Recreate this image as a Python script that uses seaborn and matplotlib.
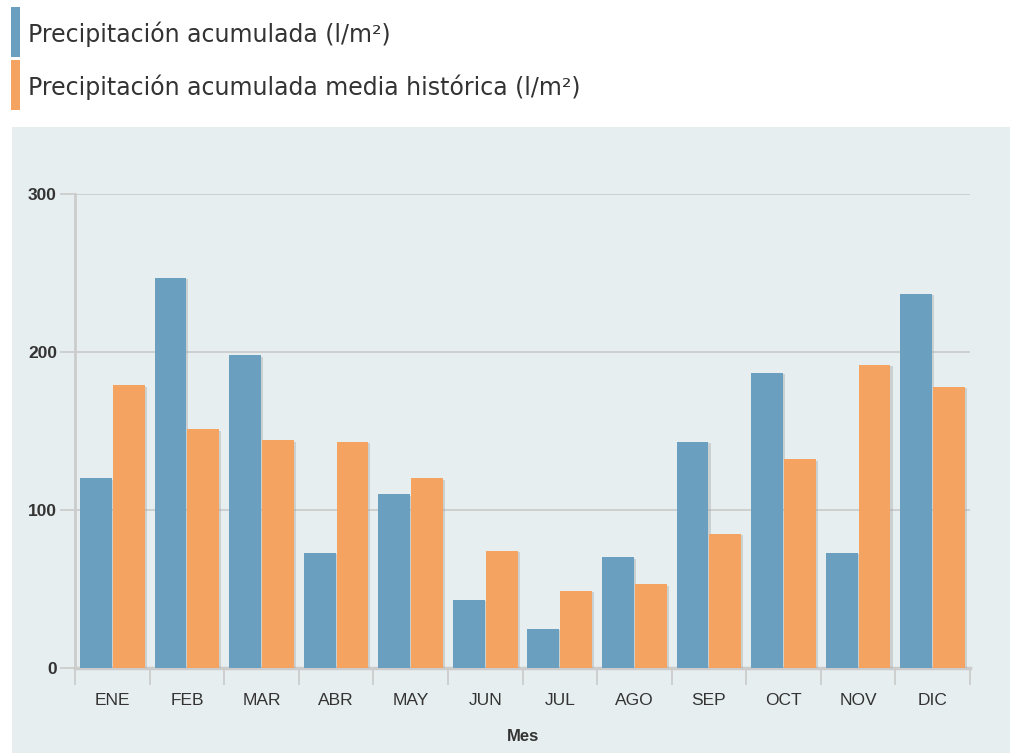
import numpy as np
import pandas as pd
import matplotlib
matplotlib.use("Agg")
import matplotlib.pyplot as plt
import matplotlib.patheffects as pe
from matplotlib.patches import Rectangle
import seaborn as sns

# data
meses = ["ENE", "FEB", "MAR", "ABR", "MAY", "JUN", "JUL", "AGO", "SEP", "OCT", "NOV", "DIC"]
acumulada = [120, 247, 198, 73, 110, 43, 25, 70, 143, 187, 73, 237]
media_historica = [179, 151, 144, 143, 120, 74, 49, 53, 85, 132, 192, 178]

serie_1 = "Precipitación acumulada (l/m²)"
serie_2 = "Precipitación acumulada media histórica (l/m²)"

blue = "#6a9fc0"
orange = "#f4a460"
bg = "#e7eef0"
grid_col = "#cccccc"

df = pd.DataFrame({
    "Mes": meses * 2,
    "valor": acumulada + media_historica,
    "serie": [serie_1] * len(meses) + [serie_2] * len(meses),
})

sns.set_style("white")
plt.rcParams["font.family"] = ["Liberation Sans", "DejaVu Sans"]

fig = plt.figure(figsize=(10.10, 7.53), dpi=100)
fig.patches.append(Rectangle((12 / 1010, 0), 1 - 12 / 1010, 1 - 127 / 753,
                             transform=fig.transFigure, facecolor=bg,
                             edgecolor="none", zorder=-5))

ax = fig.add_axes([75 / 1010, 1 - 668 / 753, 895 / 1010, 474 / 753])
ax.set_facecolor("none")

sns.barplot(data=df, x="Mes", y="valor", hue="serie", order=meses,
            palette=[blue, orange], width=0.88, gap=0.03, ax=ax,
            saturation=1, legend=False, linewidth=0, zorder=3)

shadow = [pe.SimplePatchShadow(offset=(1.5, -1), shadow_rgbFace="#999999", alpha=0.35), pe.Normal()]
for p in ax.patches:
    p.set_path_effects(shadow)

ax.set_ylim(0, 300)
ax.set_xlim(-0.5, len(meses) - 0.5)
ax.set_yticks([0, 100, 200, 300])
ax.grid(axis="y", color=grid_col, linewidth=1.3, zorder=0)
ax.tick_params(axis="y", left=True, length=11, width=1.3, color=grid_col, labelsize=12.5, pad=2)
for lab in ax.get_yticklabels():
    lab.set_fontweight("bold")
    lab.set_color("#333333")

ax.set_xticks(np.arange(len(meses)))
ax.set_xticklabels(meses)
ax.tick_params(axis="x", bottom=True, length=0, labelsize=12.5, pad=18, labelcolor="#333333")
ax.set_xticks(np.arange(-0.5, len(meses)), minor=True)
ax.tick_params(axis="x", which="minor", bottom=True, length=12, width=1.3, color=grid_col)

for s in ["top", "right"]:
    ax.spines[s].set_visible(False)
ax.spines["left"].set_color(grid_col)
ax.spines["left"].set_linewidth(2)
ax.spines["bottom"].set_color(grid_col)
ax.spines["bottom"].set_linewidth(2.5)

ax.set_ylabel("")
ax.set_xlabel("Mes", fontsize=12, fontweight="bold", color="#333333", labelpad=15)

# legend as stacked colour bars on the top left
for i, (name, col) in enumerate([(serie_1, blue), (serie_2, orange)]):
    y0 = 7 + i * 53
    fig.patches.append(Rectangle((11 / 1010, 1 - (y0 + 50) / 753), 9 / 1010, 50 / 753,
                                 transform=fig.transFigure, facecolor=col,
                                 edgecolor="none"))
    fig.text(28 / 1010, 1 - (y0 + 27) / 753, name, fontsize=17, color="#333333",
             family=["DejaVu Sans"], va="center", ha="left")

fig.savefig("out.png", dpi=100)
